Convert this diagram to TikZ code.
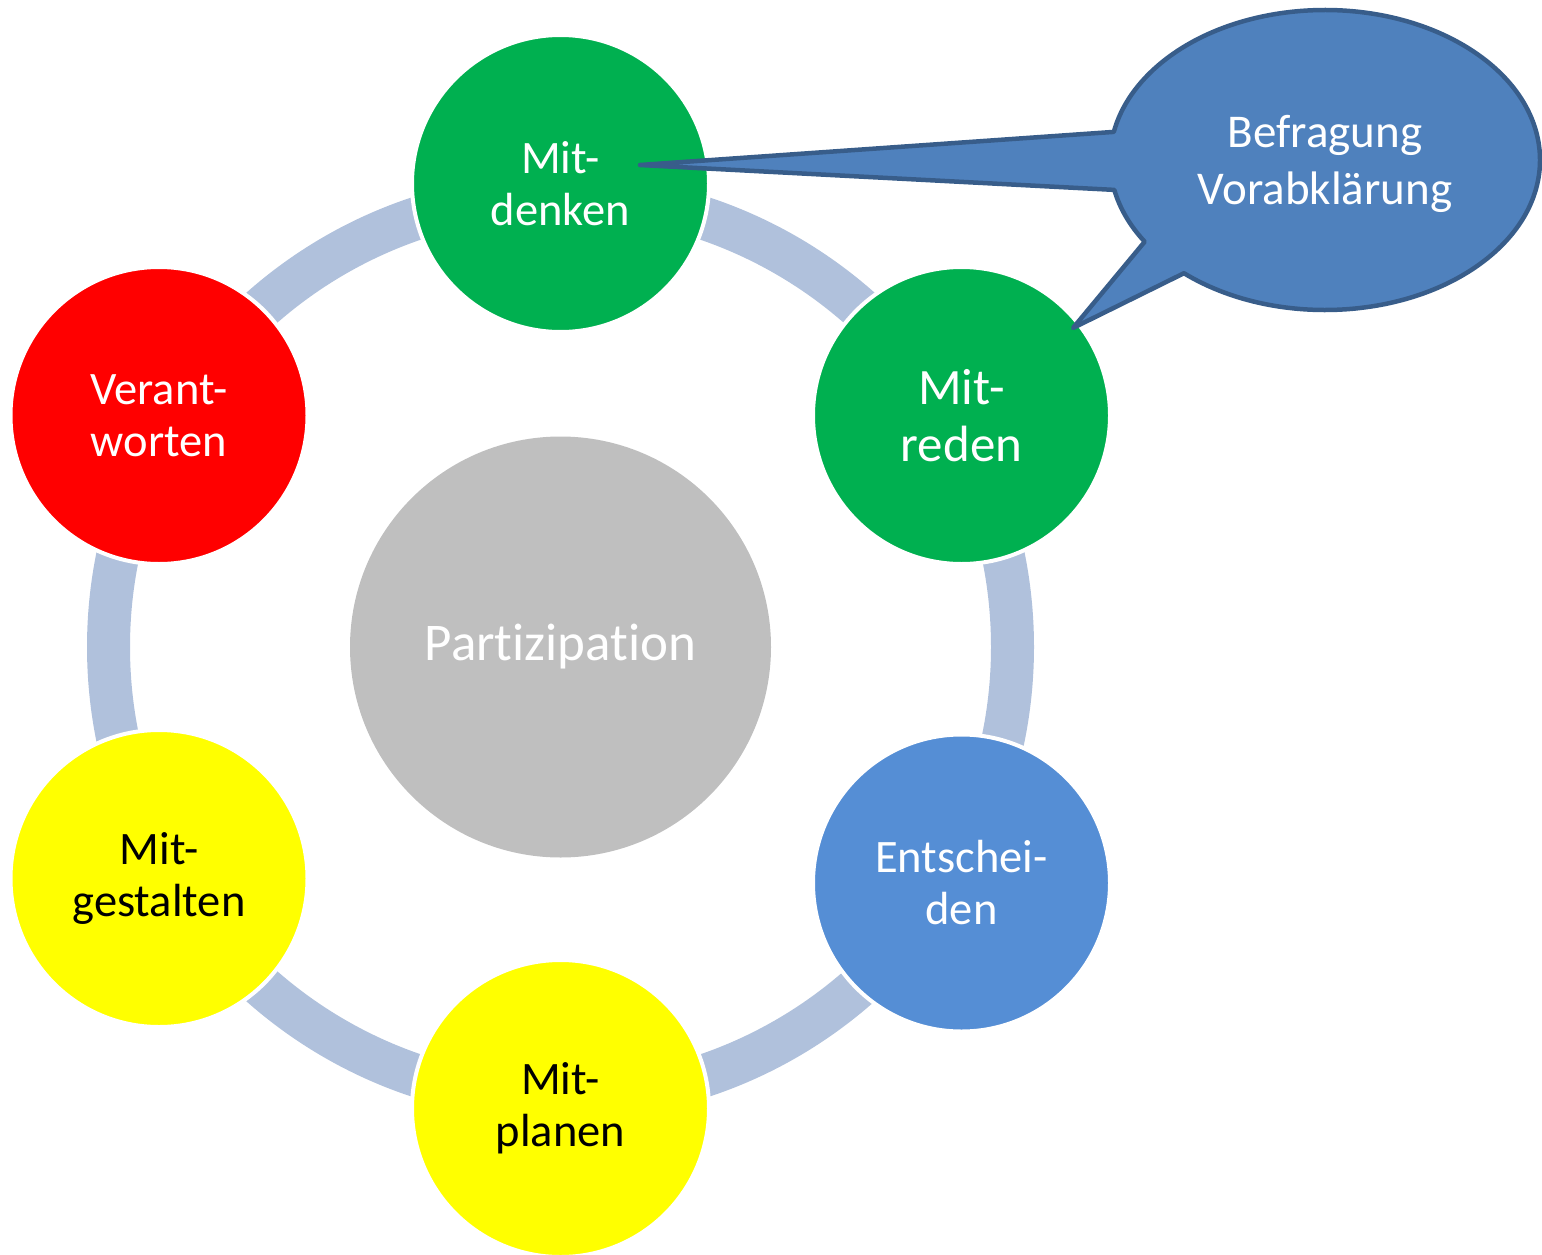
\documentclass[tikz,border=0pt]{standalone}
\usepackage{fontspec}
\setmainfont{Carlito}[Ligatures={NoCommon}]
\usetikzlibrary{calc}
\definecolor{cgreen}{HTML}{00B050}
\definecolor{cred}{HTML}{FF0000}
\definecolor{cyellow}{HTML}{FFFF00}
\definecolor{cblue}{HTML}{558ED5}
\definecolor{cgray}{HTML}{BFBFBF}
\definecolor{cring}{HTML}{B0C1DC}
\definecolor{cfill}{HTML}{4F81BD}
\definecolor{cstroke}{HTML}{385D8A}
\begin{document}
\begin{tikzpicture}[x=1pt,y=-1pt,
  disc/.style={circle, inner sep=0pt, minimum size=297pt, draw=white, line width=4pt,
    align=center, font=\fontsize{46.5}{52}\selectfont},
  ringstyle/.style={draw=cring, line width=43pt},
  callout/.style={fill=cfill, draw=cstroke, line width=4.5pt, line join=round},
  callouttext/.style={text=white, align=center, font=\fontsize{47}{57}\selectfont}
]
\useasboundingbox (0,0) rectangle (1542,1255);
\draw[ringstyle] (560.5,647) circle[radius=452];
\node[disc, fill=cgreen, text=white] (denken) at (560.5,183.5) {Mit-\\denken};
\node[disc, fill=cgreen, text=white, font=\fontsize{51}{57}\selectfont] (reden) at (961.5,415.5) {Mit-\\reden};
\node[disc, fill=cblue, text=white] (entscheiden) at (961.5,883) {Entschei-\\den};
\node[disc, fill=cyellow, text=black] (planen) at (560.5,1108.5) {Mit-\\planen};
\node[disc, fill=cyellow, text=black] (gestalten) at (159,878.5) {Mit-\\gestalten};
\node[disc, fill=cred, text=white] (verantworten) at (159,415.5) {Verant-\\worten};
\node[circle, fill=cgray, minimum size=421pt, inner sep=0pt, text=white,
  font=\fontsize{53}{60}\selectfont] (partizipation) at (560.5,647) {Partizipation};
\coordinate (C) at (1325,160);
\coordinate (tipA) at (640,165);
\coordinate (tipB) at (1073,328);
\draw[callout] ($(C)+(190.8:215 and 150)$) -- (tipA) -- ($(C)+(168.5:215 and 150)$)
  arc[start angle=168.5, end angle=147, x radius=215, y radius=150] -- (tipB)
  -- ($(C)+(131:215 and 150)$)
  arc[start angle=131, end angle=-169.2, x radius=215, y radius=150] -- cycle;
\node[callouttext] (befragung) at (1325,164) {Befragung\\Vorabklärung};
\end{tikzpicture}
\end{document}
